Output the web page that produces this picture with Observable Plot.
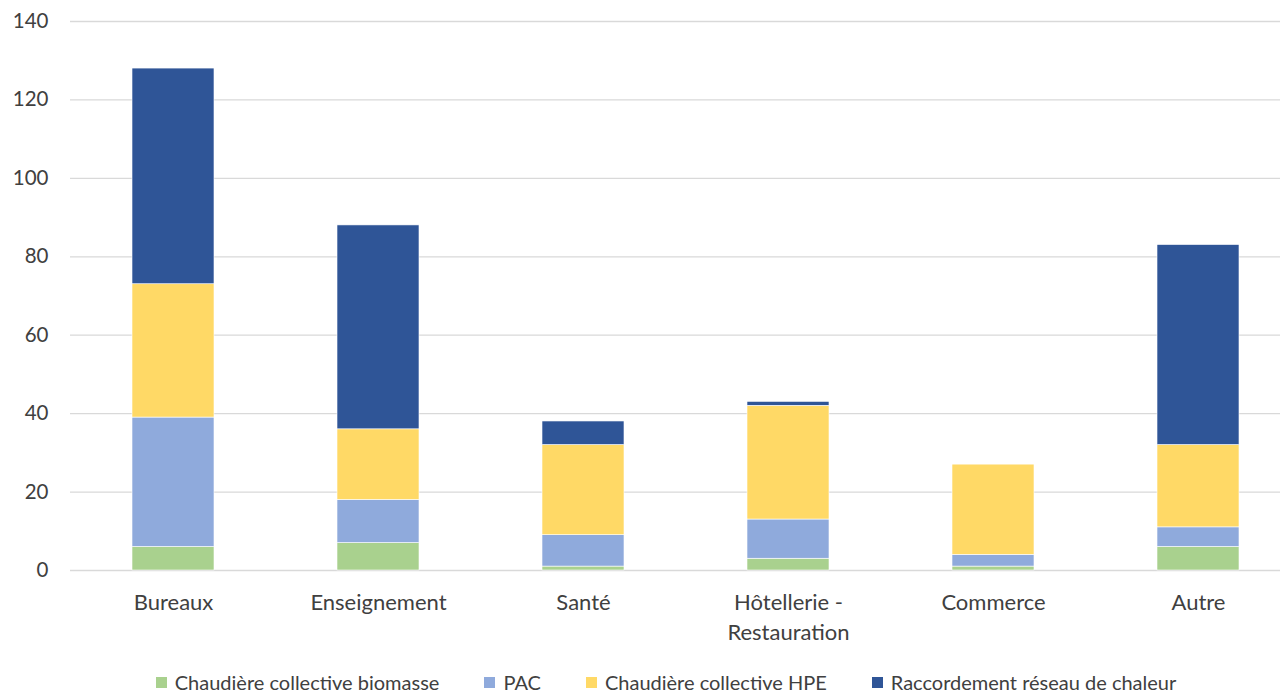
<!DOCTYPE html>
<html>
<head>
<meta charset="utf-8">
<script src="https://cdn.jsdelivr.net/npm/d3@7"></script>
<script src="https://cdn.jsdelivr.net/npm/@observablehq/plot@0.6"></script>
<style>
  html, body { margin: 0; padding: 0; background: #fff; }
  body { width: 1288px; height: 692px; overflow: hidden; font-family: Lato, "Open Sans", sans-serif; }
  #legend { display: flex; justify-content: center; align-items: center; height: 42px; padding-top: 22px; font-size: 20px; color: #404040; padding-left: 44px; box-sizing: border-box; }
  .item { display: flex; align-items: center; margin: 0 22.5px; white-space: nowrap; }
  .sw { width: 11px; height: 11px; margin-right: 8px; }
</style>
</head>
<body>
<div id="chart"></div>
<div id="legend"></div>
<script>
const categories = ["Bureaux", "Enseignement", "Santé", "Hôtellerie -\nRestauration", "Commerce", "Autre"];
const series = ["Chaudière collective biomasse", "PAC", "Chaudière collective HPE", "Raccordement réseau de chaleur"];
const colors = ["#A9D18E", "#8FAADC", "#FFD966", "#2F5597"];
const biomasse = [6, 7, 1, 3, 1, 6];
const pac = [33, 11, 8, 10, 3, 5];
const hpe = [34, 18, 23, 29, 23, 21];
const reseau = [55, 52, 6, 1, 0, 51];
const yTicks = [0, 20, 40, 60, 80, 100, 120, 140];

const values = [biomasse, pac, hpe, reseau];
const data = [];
series.forEach((s, i) => categories.forEach((c, j) => data.push({cat: c, serie: s, value: values[i][j]})));

const chart = Plot.plot({
  width: 1288,
  height: 650,
  marginTop: 21,
  marginBottom: 80,
  marginLeft: 70,
  marginRight: 8,
  style: {fontFamily: "Lato, 'Open Sans', sans-serif", fontSize: "20px", color: "#404040"},
  x: {domain: categories, range: [69, 1301], paddingInner: 0.6, paddingOuter: 0.3, label: null},
  y: {domain: [0, 140], ticks: yTicks, label: null},
  color: {domain: series, range: colors},
  marks: [
    Plot.ruleY(yTicks, {stroke: "#D9D9D9", strokeWidth: 1.3}),
    Plot.barY(data, {x: "cat", y: "value", fill: "serie", order: series, stroke: "#fff", strokeWidth: 0.6}),
    Plot.axisY({ticks: yTicks, tickSize: 0, tickPadding: 22, fontSize: 20.5, label: null}),
    Plot.axisX({tickSize: 0, tickPadding: 19, fontSize: 22, lineHeight: 1.33, label: null})
  ]
});
document.getElementById("chart").appendChild(chart);

const legend = document.getElementById("legend");
series.forEach((s, i) => {
  const it = document.createElement("div");
  it.className = "item";
  it.innerHTML = `<span class="sw" style="background:${colors[i]}"></span><span>${s}</span>`;
  legend.appendChild(it);
});
</script>
</body>
</html>
